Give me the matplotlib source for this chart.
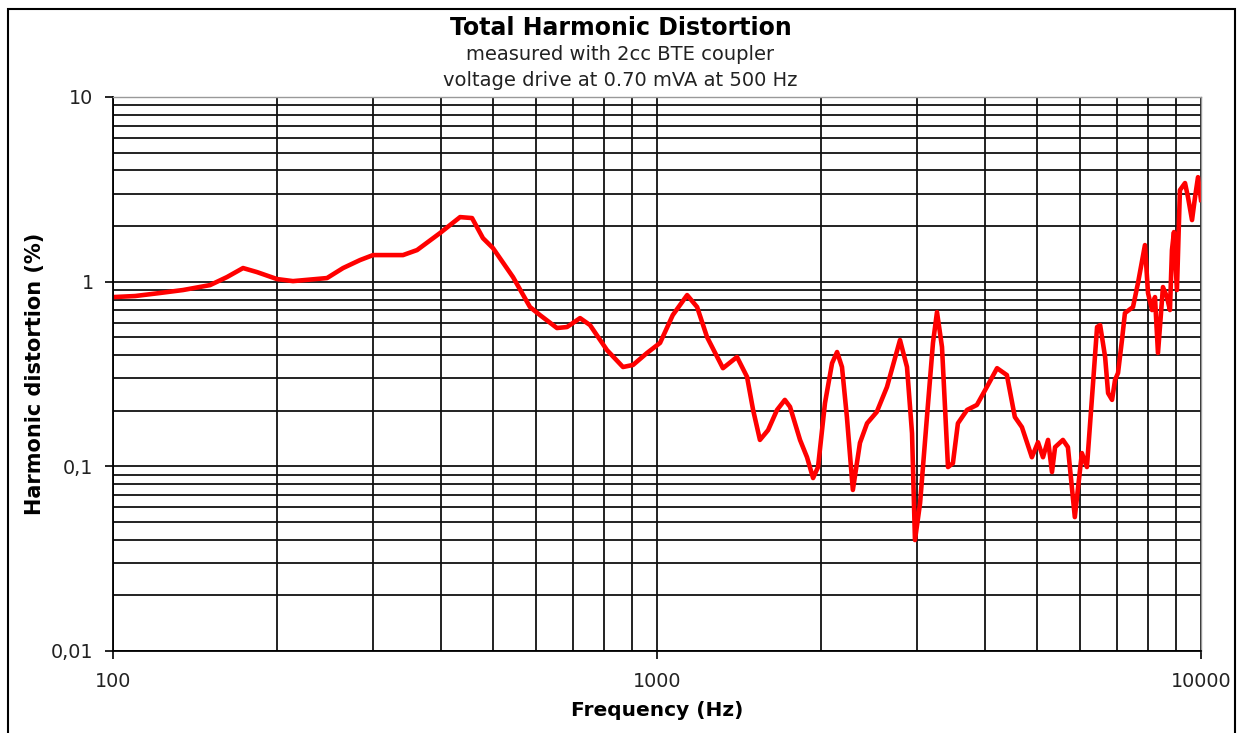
import matplotlib
matplotlib.use('Agg')
import matplotlib.pyplot as plt
from matplotlib.patches import Rectangle
from matplotlib.ticker import LogLocator, NullFormatter

# frequency (Hz) and harmonic distortion (%)
freq = [100, 109.8, 121.9, 134.5, 150.8, 162.0, 173.4, 183.9, 200.2, 214.2,
        247.4, 264.8, 284.5, 300.6, 341.3, 362.2, 399.1, 416.4, 434.5, 457.1,
        478.7, 499.4, 543.6, 584.1, 609.5, 654.8, 683.3, 722.0, 753.1, 809.2,
        865.9, 903.6, 958.6, 1013, 1069, 1136, 1185, 1236, 1322, 1403,
        1464, 1502, 1546, 1600, 1662, 1718, 1756, 1832, 1887, 1936,
        1977, 2036, 2098, 2143, 2188, 2234, 2291, 2361, 2433, 2535,
        2647, 2797, 2881, 2943, 2980, 3045, 3135, 3216, 3271, 3341,
        3427, 3499, 3574, 3715, 3873, 4059, 4218, 4397, 4548, 4686,
        4888, 5016, 5123, 5234, 5322, 5392, 5574, 5693, 5862, 6040,
        6170, 6332, 6441, 6525, 6664, 6749, 6863, 6950, 7038, 7157,
        7247, 7499, 7659, 7888, 7991, 8128, 8230, 8335, 8513, 8658,
        8768, 8843, 8918, 9031, 9146, 9346, 9464, 9627, 9751, 9874, 10000]
thd = [0.825, 0.836, 0.868, 0.901, 0.958, 1.059, 1.185, 1.127, 1.033, 1.007,
       1.046, 1.185, 1.309, 1.393, 1.393, 1.483, 1.833, 2.025, 2.237, 2.21,
       1.72, 1.52, 1.059, 0.729, 0.659, 0.561, 0.568, 0.635, 0.582, 0.426,
       0.345, 0.354, 0.411, 0.466, 0.659, 0.846, 0.729, 0.501, 0.340, 0.391,
       0.305, 0.202, 0.139, 0.157, 0.202, 0.229, 0.210, 0.139, 0.112, 0.0864,
       0.0991, 0.220, 0.362, 0.416, 0.345, 0.185, 0.0745, 0.134, 0.171, 0.197,
       0.269, 0.483, 0.345, 0.151, 0.0399, 0.0632, 0.185, 0.466, 0.684, 0.443,
       0.0991, 0.104, 0.171, 0.202, 0.215, 0.276, 0.340, 0.312, 0.185, 0.163,
       0.112, 0.135, 0.112, 0.139, 0.0931, 0.127, 0.139, 0.127, 0.0531, 0.118,
       0.0991, 0.282, 0.568, 0.582, 0.391, 0.249, 0.229, 0.294, 0.320, 0.483,
       0.676, 0.729, 0.983, 1.578, 0.868, 0.702, 0.825, 0.411, 0.935, 0.825,
       0.702, 1.483, 1.856, 0.901, 3.13, 3.42, 2.87, 2.156, 2.87, 3.68, 2.77]

xticks = [100, 1000, 10000]
xticklabels = ['100', '1000', '10000']
yticks = [0.01, 0.1, 1, 10]
yticklabels = ['0,01', '0,1', '1', '10']

plt.rcParams['font.family'] = ['DejaVu Sans']

fig = plt.figure(figsize=(12.41, 7.33), dpi=100)
ax = fig.add_axes([113/1241, 1 - 651/733, (1201-113)/1241, (651-97)/733])

ax.plot(freq, thd, color='#ff0000', linewidth=3.3, solid_joinstyle='round')

ax.set_xscale('log')
ax.set_yscale('log')
ax.set_xlim(100, 10000)
ax.set_ylim(0.01, 10)

ax.xaxis.set_minor_locator(LogLocator(base=10, subs=range(2, 10)))
ax.yaxis.set_minor_locator(LogLocator(base=10, subs=range(2, 10)))
ax.xaxis.set_minor_formatter(NullFormatter())
ax.yaxis.set_minor_formatter(NullFormatter())
ax.set_xticks(xticks)
ax.set_xticklabels(xticklabels)
ax.set_yticks(yticks)
ax.set_yticklabels(yticklabels)

ax.grid(True, which='both', color='#111111', linewidth=1.3)
ax.set_axisbelow(True)
ax.tick_params(which='major', direction='out', length=6, width=1.2,
               labelsize=13.8, color='black', labelcolor='#222222')
ax.tick_params(axis='y', which='major', pad=8)
ax.tick_params(axis='x', which='major', pad=9)
ax.tick_params(which='minor', length=0)

for s in ['left', 'bottom']:
    ax.spines[s].set_color('black')
    ax.spines[s].set_linewidth(1.3)
for s in ['top', 'right']:
    ax.spines[s].set_color('#999999')
    ax.spines[s].set_linewidth(1.0)

ax.set_xlabel('Frequency (Hz)', fontsize=14.5, fontweight='bold', labelpad=7)
ax.set_ylabel('Harmonic distortion (%)', fontsize=15, fontweight='bold', labelpad=4)

fig.text(0.5, 1 - 28/733, 'Total Harmonic Distortion', ha='center', va='center',
         fontsize=17, fontweight='bold')
fig.text(0.5, 1 - 55/733, 'measured with 2cc BTE coupler', ha='center', va='center',
         fontsize=14, color='#222222')
fig.text(0.5, 1 - 80/733, 'voltage drive at 0.70 mVA at 500 Hz', ha='center', va='center',
         fontsize=14, color='#222222')

# outer chart frame
fig.patches.append(Rectangle((8/1241, -0.05), (1235-8)/1241, 1.05 - 9/733,
                             transform=fig.transFigure, fill=False,
                             edgecolor='black', linewidth=1.5))

fig.savefig('out.png', dpi=100)
